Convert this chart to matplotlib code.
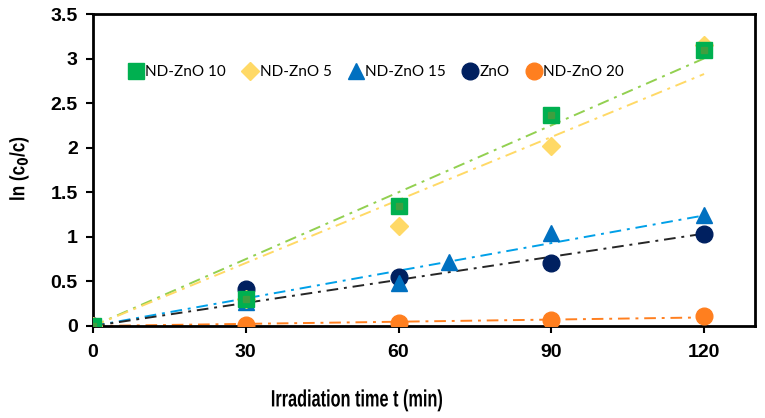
import numpy as np
import matplotlib
matplotlib.use("Agg")
import matplotlib.pyplot as plt
from matplotlib.lines import Line2D
from matplotlib.patheffects import AbstractPathEffect
from matplotlib.transforms import Affine2D

# Data
t_std = [0, 30, 60, 90, 120]
t_15 = [0, 30, 60, 70, 90, 120]
nd10 = [0, 0.30, 1.35, 2.37, 3.10]
nd5 = [0, 0.30, 1.12, 2.02, 3.15]
nd15 = [0, 0.27, 0.48, 0.72, 1.04, 1.24]
zno = [0, 0.42, 0.55, 0.71, 1.03]
nd20 = [0, 0.01, 0.03, 0.07, 0.11]
labels = ["ND-ZnO 10", "ND-ZnO 5", "ND-ZnO 15", "ZnO", "ND-ZnO 20"]
xticks = [0, 30, 60, 90, 120]
yticks = [0, 0.5, 1, 1.5, 2, 2.5, 3, 3.5]
yticklabels = ["0", "0.5", "1", "1.5", "2", "2.5", "3", "3.5"]

series = [
    (t_std, nd10, "s", "#00B050", "#92D050", 11),
    (t_std, nd5, "D", "#FFD966", "#FFD966", 9),
    (t_15, nd15, "^", "#0070C0", "#00A0E8", 12),
    (t_std, zno, "o", "#002060", "#262626", 12),
    (t_std, nd20, "o", "#FF7F1F", "#FF7F1F", 12),
]


class Squeeze(AbstractPathEffect):
    """Condense text about its own centre (emulates a narrow font)."""
    def __init__(self, sx=1.0, sy=1.0):
        super().__init__()
        self.sx, self.sy = sx, sy

    def draw_path(self, renderer, gc, tpath, affine, rgbFace=None):
        ext = tpath.get_extents(affine)
        cx, cy = (ext.x0 + ext.x1) / 2, (ext.y0 + ext.y1) / 2
        a = affine + Affine2D().translate(-cx, -cy).scale(self.sx, self.sy).translate(cx, cy)
        renderer.draw_path(gc, tpath, a, rgbFace)


plt.rcParams["font.family"] = ["Liberation Sans", "DejaVu Sans"]
plt.rcParams["font.weight"] = "bold"
plt.rcParams["mathtext.default"] = "bf"
sz = 14

fig = plt.figure(figsize=(7.65, 4.18), dpi=100)
ax = fig.add_axes([0.1216, 0.2201, 0.8653, 0.7464])

# Trendlines (linear through origin)
for x, y, m, mc, lc, ms in series:
    x = np.asarray(x, float); y = np.asarray(y, float)
    k = (x * y).sum() / (x * x).sum()
    xx = np.array([0, 120])
    ax.plot(xx, k * xx, color=lc, lw=1.4, ls=(0, (6, 3, 1.5, 3)), zorder=2)

order = [4, 3, 2, 1, 0]
for i in order:
    x, y, m, mc, lc, ms = series[i]
    ax.plot(x, y, ls="none", marker=m, ms=ms, color=mc, mec=mc, zorder=3 + (5 - i))
ax.plot(t_std, nd10, ls="none", marker="s", ms=5, color="#3F9F3F", zorder=9)

ax.set_xlim(0, 130)
ax.set_ylim(0, 3.5)
ax.set_xticks(xticks)
ax.set_yticks(yticks, yticklabels)
ax.tick_params(axis="both", direction="out", length=5, width=1.5, colors="black", labelsize=sz)
ax.tick_params(axis="x", pad=8)
ax.tick_params(axis="y", pad=6)
for s in ax.spines.values():
    s.set_linewidth(2)

xl = ax.set_xlabel("Irradiation time t (min)", fontsize=17, fontweight="bold", va="center")
xl.set_path_effects([Squeeze(sx=0.69)])
ax.xaxis.set_label_coords(0.399, -0.237)

yl = ax.set_ylabel("ln (c$_0$/c)", fontsize=15, fontweight="bold", va="center", ha="center")
yl.set_path_effects([Squeeze(sy=0.82)])
ax.yaxis.set_label_coords(-0.112, 0.505)

handles = []
for (x, y, m, mc, lc, ms), lab in zip(series, labels):
    handles.append(Line2D([], [], ls="none", marker=m, ms=ms, color=mc, label=lab))
ax.legend(handles=handles, loc="upper left", bbox_to_anchor=(0.035, 0.87), ncol=5,
          frameon=False, prop=dict(family=["Lato", "DejaVu Sans"], size=11, weight="normal"),
          handletextpad=0.0, columnspacing=1.0, handlelength=1.2, borderpad=0.2)

fig.savefig("out.png", dpi=100)
